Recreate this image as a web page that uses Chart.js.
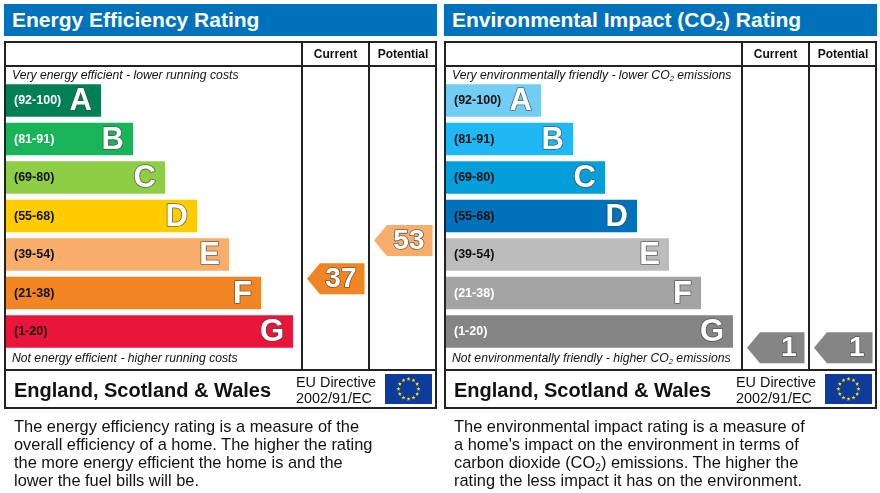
<!DOCTYPE html>
<html><head><meta charset="utf-8">
<script src="https://cdn.jsdelivr.net/npm/chart.js@4.4.1/dist/chart.umd.min.js"></script>
<style>
body{margin:0;width:880px;height:493px;overflow:hidden;background:#fff;font-family:"Liberation Sans",Arial,sans-serif;color:#111;}
.panel{position:absolute;top:0;width:440px;height:493px;}
.panel canvas{position:absolute;left:0;top:0;}
.title{position:absolute;left:4px;top:4px;width:433px;height:32px;background:#0072bc;color:#fff;font-weight:bold;font-size:21px;line-height:32px;padding-left:8px;box-sizing:border-box;white-space:nowrap;}
.title sub,.it sub,.desc sub{font-size:0.62em;vertical-align:-0.25em;line-height:0;}
.frame{position:absolute;left:4px;top:41px;width:433px;height:368px;border:2px solid #222;box-sizing:border-box;}
.hl{position:absolute;height:2px;background:#222;}
.vl{position:absolute;width:2px;background:#222;}
.hd{position:absolute;top:42px;height:24px;line-height:24px;font-weight:bold;font-size:12px;text-align:center;}
.it{position:absolute;left:12px;font-style:italic;font-size:12.2px;line-height:14px;white-space:nowrap;}
.esw{position:absolute;left:14px;top:372px;height:36px;line-height:36px;font-weight:bold;font-size:20px;white-space:nowrap;}
.eu{position:absolute;left:296px;top:374px;font-size:14.4px;line-height:16px;white-space:nowrap;}
.desc{position:absolute;left:14px;top:417px;font-size:16.4px;line-height:18px;white-space:nowrap;}
</style></head>
<body>
<div class="panel" id="p1" style="left:0">
  <canvas id="c1" width="440" height="493"></canvas>
  <div class="title">Energy Efficiency Rating</div>
  <div class="frame"></div>
  <div class="hl" style="left:4px;top:65px;width:433px"></div>
  <div class="hl" style="left:4px;top:369px;width:433px"></div>
  <div class="vl" style="left:301px;top:41px;height:329px"></div>
  <div class="vl" style="left:368px;top:41px;height:329px"></div>
  <div class="hd" style="left:302px;width:67px">Current</div>
  <div class="hd" style="left:369px;width:68px">Potential</div>
  <div class="it" style="top:68px">Very energy efficient - lower running costs</div>
  <div class="it" style="top:351px">Not energy efficient - higher running costs</div>
  <div class="esw">England, Scotland &amp; Wales</div>
  <div class="eu">EU Directive<br>2002/91/EC</div>
  <div class="desc">The energy efficiency rating is a measure of the<br>overall efficiency of a home. The higher the rating<br>the more energy efficient the home is and the<br>lower the fuel bills will be.</div>
</div>
<div class="panel" id="p2" style="left:440px">
  <canvas id="c2" width="440" height="493"></canvas>
  <div class="title">Environmental Impact (CO<sub>2</sub>) Rating</div>
  <div class="frame"></div>
  <div class="hl" style="left:4px;top:65px;width:433px"></div>
  <div class="hl" style="left:4px;top:369px;width:433px"></div>
  <div class="vl" style="left:301px;top:41px;height:329px"></div>
  <div class="vl" style="left:368px;top:41px;height:329px"></div>
  <div class="hd" style="left:302px;width:67px">Current</div>
  <div class="hd" style="left:369px;width:68px">Potential</div>
  <div class="it" style="top:68px">Very environmentally friendly - lower CO<sub>2</sub> emissions</div>
  <div class="it" style="top:351px">Not environmentally friendly - higher CO<sub>2</sub> emissions</div>
  <div class="esw">England, Scotland &amp; Wales</div>
  <div class="eu">EU Directive<br>2002/91/EC</div>
  <div class="desc">The environmental impact rating is a measure of<br>a home's impact on the environment in terms of<br>carbon dioxide (CO<sub>2</sub>) emissions. The higher the<br>rating the less impact it has on the environment.</div>
</div>
<script>
// ---- data ----
const categories = ['A','B','C','D','E','F','G'];
const bandRanges = ['(92-100)','(81-91)','(69-80)','(55-68)','(39-54)','(21-38)','(1-20)'];
const bandMin = [92,81,69,55,39,21,1];
const bandMax = [100,91,80,68,54,38,20];
const bandLengths = [3,4,5,6,7,8,9];
const energyColors = ['#008054','#19b459','#8dce46','#ffcc00','#f8ad6a','#f18523','#e9153b'];
const energyLabelColors = ['#fff','#fff','#111','#111','#111','#111','#111'];
const envColors = ['#72cdf4','#1fb8f5','#049fdb','#0072bc','#bcbcbc','#a4a4a4','#858585'];
const envLabelColors = ['#111','#111','#111','#111','#111','#fff','#fff'];
const energyCurrent = 37, energyPotential = 53;
const envCurrent = 1, envPotential = 1;

const FONT = '"Liberation Sans", Arial, sans-serif';

function bandOf(v){ for(let i=0;i<bandMin.length;i++){ if(v>=bandMin[i] && v<=bandMax[i]) return i; } return bandMin.length-1; }

const epcPlugin = {
  id:'epc',
  afterDatasetsDraw(chart, args, opts){
    const ctx = chart.ctx;
    const meta = chart.getDatasetMeta(0);
    // band letters
    meta.data.forEach((bar,i)=>{
      ctx.save();
      ctx.font = 'bold 31px ' + FONT;
      ctx.textAlign = 'right'; ctx.textBaseline = 'middle';
      ctx.lineJoin = 'round';
      ctx.lineWidth = 1.6; ctx.strokeStyle = 'rgba(70,70,70,0.75)';
      ctx.fillStyle = '#fff';
      ctx.strokeText(categories[i], bar.x - 9, bar.y + 1);
      ctx.fillText(categories[i], bar.x - 9, bar.y + 1);
      ctx.restore();
    });
    // rating arrows
    opts.ratings.forEach(r=>{
      const i = bandOf(r.value);
      const bar = meta.data[i];
      const top = bar.y - bar.height/2;
      const cy = top + (bandMax[i]-r.value)/(bandMax[i]-bandMin[i]) * bar.height;
      const h = bar.height * 0.95;
      const xl = r.col[0] + 5, xr = r.col[1] - 4.5, notch = h*0.42;
      ctx.save();
      ctx.beginPath();
      ctx.moveTo(xl, cy);
      ctx.lineTo(xl + notch, cy - h/2);
      ctx.lineTo(xr, cy - h/2);
      ctx.lineTo(xr, cy + h/2);
      ctx.lineTo(xl + notch, cy + h/2);
      ctx.closePath();
      ctx.fillStyle = opts.colors[i];
      ctx.fill();
      ctx.font = 'bold 28px ' + FONT;
      ctx.textAlign = 'right'; ctx.textBaseline = 'middle';
      ctx.lineJoin = 'round';
      ctx.lineWidth = 1.6; ctx.strokeStyle = 'rgba(70,70,70,0.75)';
      ctx.fillStyle = '#fff';
      ctx.strokeText(String(r.value), xr - 8, cy + 1);
      ctx.fillText(String(r.value), xr - 8, cy + 1);
      ctx.restore();
    });
  },
  afterDraw(chart){
    // EU flag
    const ctx = chart.ctx;
    const fx = 385, fy = 374, fw = 47, fh = 30;
    ctx.save();
    ctx.fillStyle = '#0d3b9c';
    ctx.fillRect(fx, fy, fw, fh);
    const cx = fx + fw/2, cy = fy + fh/2, R = 10;
    ctx.fillStyle = '#ffe100';
    for(let k=0;k<12;k++){
      const a = k*Math.PI/6;
      const sx = cx + R*Math.sin(a), sy = cy - R*Math.cos(a);
      ctx.beginPath();
      for(let j=0;j<10;j++){
        const rr = j%2===0 ? 2.2 : 0.9;
        const b = -Math.PI/2 + j*Math.PI/5;
        const px = sx + rr*Math.cos(b), py = sy + rr*Math.sin(b);
        if(j===0) ctx.moveTo(px,py); else ctx.lineTo(px,py);
      }
      ctx.closePath(); ctx.fill();
    }
    ctx.restore();
  }
};

function makeChart(id, colors, labelColors, current, potential){
  return new Chart(document.getElementById(id), {
    type:'bar',
    data:{ labels:categories, datasets:[{ data:bandLengths, backgroundColor:colors, borderWidth:0, barPercentage:0.842, categoryPercentage:1 }]},
    options:{
      indexAxis:'y', responsive:false, animation:false, events:[],
      layout:{ padding:{ left:5, right:3, top:81.3, bottom:493-350.8 } },
      plugins:{
        legend:{display:false}, tooltip:{enabled:false},
        epc:{ colors:colors, ratings:[ {value:current, col:[302,369]}, {value:potential, col:[369,437]} ] }
      },
      scales:{
        x:{ type:'linear', min:0, max:13.5, display:false },
        y:{ type:'category', position:'left',
            grid:{display:false, drawTicks:false}, border:{display:false},
            afterFit(s){ s.width = 0; },
            ticks:{ z:1, mirror:true, padding:9, color:(c)=>labelColors[c.index],
                    font:{family:FONT, weight:'bold', size:12.5},
                    callback:(v,i)=>bandRanges[i] } }
      }
    },
    plugins:[epcPlugin]
  });
}
makeChart('c1', energyColors, energyLabelColors, energyCurrent, energyPotential);
makeChart('c2', envColors, envLabelColors, envCurrent, envPotential);
</script>
</body></html>
